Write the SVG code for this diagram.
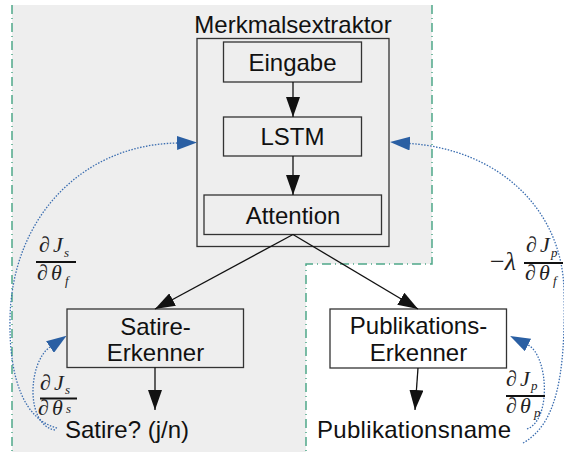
<svg xmlns="http://www.w3.org/2000/svg" width="564" height="452" viewBox="0 0 564 452">
<defs>
<style>
.box{fill:none;stroke:#333;stroke-width:1.3}
.lbl{font-family:"Liberation Sans",Arial,sans-serif;font-size:24px;fill:#111;text-anchor:middle}
.out{font-family:"Liberation Sans",Arial,sans-serif;font-size:24px;fill:#111}
.edge{fill:none;stroke:#111;stroke-width:1.3}
.grad{fill:none;stroke:#3a6db0;stroke-width:1.3;stroke-dasharray:1.5 1.5}
.m{font-family:"Liberation Serif","Times New Roman",serif;font-size:22px;fill:#222}
.big{font-size:26px}
.i{font-style:italic}
.sub{font-family:"Liberation Serif","Times New Roman",serif;font-size:13px;font-style:italic;fill:#222}
.bar{stroke:#111;stroke-width:2}
</style>
<marker id="ah" viewBox="0 0 20 14" markerWidth="20" markerHeight="14" refX="20" refY="7" orient="auto" markerUnits="userSpaceOnUse">
<path d="M0,0 L20,7 L0,14 z" fill="#111"/>
</marker>
<marker id="bh" viewBox="0 0 20 14" markerWidth="20" markerHeight="14" refX="0" refY="7" orient="auto" markerUnits="userSpaceOnUse">
<path d="M0,0 L20,7 L0,14 z" fill="#2a5fa3"/>
</marker>
</defs>
<rect width="564" height="452" fill="#fff"/>
<g id="background">
<path d="M12,5 H432 V264 H306 V452 H12 Z" fill="#eeeeee"/>
<path d="M12,5 V452 M432,5 V264 H306 V452" fill="none" stroke="#4fa889" stroke-width="1.5" stroke-dasharray="9 4 1 4"/>
</g>
<g id="merkmalsextraktor">
<rect x="197" y="38.5" width="192" height="208" class="box" stroke-width="1.5"/>
<text x="293" y="33" class="lbl">Merkmalsextraktor</text>
</g>
<g id="eingabe">
<rect x="223.5" y="42" width="138" height="40" class="box"/>
<text x="292.5" y="71" class="lbl">Eingabe</text>
</g>
<g id="lstm">
<rect x="223.5" y="117" width="138" height="39" class="box"/>
<text x="292.5" y="145" class="lbl">LSTM</text>
</g>
<g id="attention">
<rect x="204" y="195" width="177.5" height="39.5" class="box"/>
<text x="293" y="224" class="lbl">Attention</text>
</g>
<g id="satire-erkenner">
<rect x="67" y="309" width="176.5" height="58.5" class="box"/>
<text x="155.5" y="334.5" class="lbl">Satire-</text>
<text x="155.5" y="360.5" class="lbl">Erkenner</text>
</g>
<g id="publikations-erkenner">
<rect x="330" y="309" width="176.5" height="59" class="box"/>
<text x="418.5" y="334" class="lbl">Publikations-</text>
<text x="418.5" y="360.5" class="lbl">Erkenner</text>
</g>
<g id="satire-output">
<text x="65" y="438" class="out">Satire? (j/n)</text>
</g>
<g id="publikationsname">
<text x="317" y="438" class="out" textLength="194">Publikationsname</text>
</g>
<g id="connectors">
<line x1="293" y1="82" x2="293" y2="117" class="edge" marker-end="url(#ah)"/>
<line x1="293" y1="156" x2="293" y2="195" class="edge" marker-end="url(#ah)"/>
<line x1="293" y1="234.5" x2="155" y2="309" class="edge" marker-end="url(#ah)"/>
<line x1="293" y1="234.5" x2="418" y2="309" class="edge" marker-end="url(#ah)"/>
<line x1="155" y1="367.5" x2="155" y2="410" class="edge" marker-end="url(#ah)"/>
<line x1="418" y1="368" x2="415" y2="410" class="edge" marker-end="url(#ah)"/>
<path d="M57,428 C25,420 9,380 10,320 C11,220 80,145 177,143" class="grad" marker-end="url(#bh)"/>
<path d="M55,430 C25,425 28,362 50,347" class="grad" marker-end="url(#bh)"/>
<path d="M523,443 C555,425 566,380 564,290 C562,210 500,150 410,143.5" class="grad" marker-end="url(#bh)"/>
<path d="M527,429 C552,420 548,355 528,345" class="grad" marker-end="url(#bh)"/>
</g>
<g id="formula-sf">
<text x="39" y="252" class="m">∂</text><text x="53" y="252" class="m i">J</text><text x="64" y="257" class="sub">s</text>
<line x1="36" y1="262" x2="76" y2="262" class="bar"/>
<text x="37" y="280" class="m">∂</text><text x="51" y="280" class="m i">θ</text><text x="65" y="285" class="sub">f</text>
</g>
<g id="formula-ss">
<text x="40" y="390" class="m">∂</text><text x="54" y="390" class="m i">J</text><text x="65" y="394" class="sub">s</text>
<line x1="40" y1="398.5" x2="77" y2="398.5" class="bar"/>
<text x="38" y="415" class="m">∂</text><text x="52" y="415" class="m i">θ</text><text x="66" y="413" class="sub">s</text>
</g>
<g id="formula-pf">
<text x="490" y="270" class="m big">−<tspan class="i">λ</tspan></text>
<text x="526" y="252" class="m">∂</text><text x="540" y="252" class="m i">J</text><text x="551" y="257" class="sub">p</text>
<line x1="524" y1="263" x2="563" y2="263" class="bar"/>
<text x="525" y="280" class="m">∂</text><text x="539" y="280" class="m i">θ</text><text x="553" y="285" class="sub">f</text>
</g>
<g id="formula-pp">
<text x="506" y="386" class="m">∂</text><text x="520" y="386" class="m i">J</text><text x="531" y="390" class="sub">p</text>
<line x1="506" y1="396" x2="545" y2="396" class="bar"/>
<text x="506" y="413" class="m">∂</text><text x="520" y="413" class="m i">θ</text><text x="534" y="417" class="sub">p</text>
</g>
</svg>
